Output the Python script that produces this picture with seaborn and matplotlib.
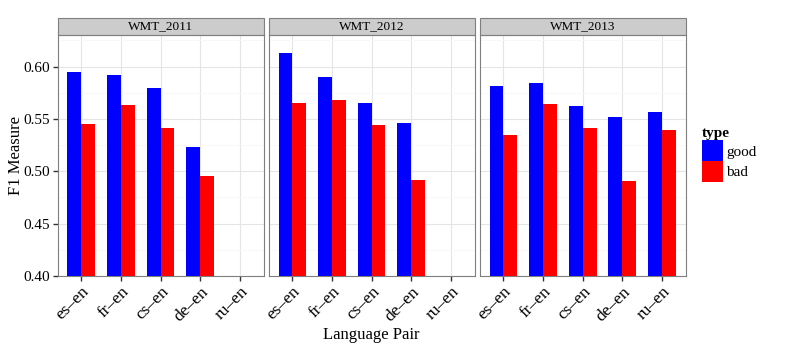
import matplotlib.pyplot as plt
import matplotlib.patches as mpatches
import numpy as np
import pandas as pd
import seaborn as sns

# %%
pairs = ["es-en", "fr-en", "cs-en", "de-en", "ru-en"]
pair_labels = ["es–en", "fr–en", "cs–en", "de–en", "ru–en"]
years = ["WMT_2011", "WMT_2012", "WMT_2013"]
types = ["good", "bad"]

good_2011 = [0.595, 0.592, 0.579, 0.523, np.nan]
bad_2011 = [0.545, 0.563, 0.541, 0.495, np.nan]
good_2012 = [0.613, 0.590, 0.565, 0.546, np.nan]
bad_2012 = [0.565, 0.568, 0.544, 0.492, np.nan]
good_2013 = [0.581, 0.584, 0.562, 0.552, 0.557]
bad_2013 = [0.535, 0.564, 0.541, 0.491, 0.539]

yticks = [0.40, 0.45, 0.50, 0.55, 0.60]

# %%
rows = []
series = {
    "WMT_2011": (good_2011, bad_2011),
    "WMT_2012": (good_2012, bad_2012),
    "WMT_2013": (good_2013, bad_2013),
}
for year, (good, bad) in series.items():
    for pair, g, b in zip(pairs, good, bad):
        if not np.isnan(g):
            rows.append({"year": year, "pair": pair, "type": "good", "f1": g})
        if not np.isnan(b):
            rows.append({"year": year, "pair": pair, "type": "bad", "f1": b})
df = pd.DataFrame(rows)

# %%
plt.rcParams["font.family"] = ["Liberation Serif", "DejaVu Serif"]
palette = {"good": "#0000FF", "bad": "#FF0000"}

fig, axes = plt.subplots(1, 3, figsize=(7.89, 3.51), dpi=100, sharey=True)
fig.subplots_adjust(left=0.073, right=0.869, bottom=0.214, top=0.90, wspace=0.025)

for ax, year in zip(axes, years):
    sns.barplot(
        data=df[df["year"] == year],
        x="pair",
        y="f1",
        hue="type",
        order=pairs,
        hue_order=types,
        palette=palette,
        width=0.7,
        saturation=1,
        errorbar=None,
        legend=False,
        ax=ax,
        zorder=3,
    )
    ax.set_xlim(-0.6, 4.6)
    ax.set_ylim(0.40, 0.63)
    ax.set_yticks(yticks)
    ax.set_yticks(np.arange(0.425, 0.63, 0.05), minor=True)
    ax.set_xticks(range(len(pairs)))
    ax.set_xticklabels(pair_labels, rotation=45, ha="right", rotation_mode="anchor")
    ax.grid(which="major", color="#E5E5E5", linewidth=0.8, zorder=0)
    ax.grid(which="minor", axis="y", color="#F7F7F7", linewidth=0.6, zorder=0)
    ax.set_axisbelow(True)
    for s in ax.spines.values():
        s.set_color("#7F7F7F")
        s.set_linewidth(0.8)
    ax.tick_params(axis="both", which="major", length=3.5, width=1, color="#333333",
                   labelsize=11, pad=2)
    ax.tick_params(axis="x", labelsize=12.5)
    ax.tick_params(which="minor", length=0)
    ax.set_xlabel("")
    ax.set_ylabel("")

    strip = mpatches.Rectangle((0, 1), 1, 0.072, transform=ax.transAxes, clip_on=False,
                               facecolor="#CCCCCC", edgecolor="#7F7F7F", linewidth=0.8)
    ax.add_patch(strip)
    ax.text(0.5, 1.036, year, transform=ax.transAxes, ha="center", va="center", fontsize=9.5)

axes[0].set_yticklabels([f"{v:.2f}" for v in yticks])
axes[0].set_ylabel("F1 Measure", fontsize=12)
axes[0].yaxis.set_label_coords(-0.165, 0.5)
for ax in axes[1:]:
    ax.tick_params(axis="y", length=0)
fig.text(0.4705, 0.046, "Language Pair", ha="center", va="center", fontsize=12)

handles = [mpatches.Patch(facecolor=palette[t], edgecolor="none") for t in types]
leg = fig.legend(handles, types, title="type", loc="upper left", bbox_to_anchor=(0.890, 0.638),
                 frameon=False, fontsize=11, handlelength=1.37, handleheight=1.735,
                 handletextpad=0.2, labelspacing=0.0, borderaxespad=0, borderpad=0)
leg.get_title().set_fontweight("bold")
leg.get_title().set_fontsize(11)
leg._legend_box.align = "left"

plt.savefig("out.png", dpi=100)
